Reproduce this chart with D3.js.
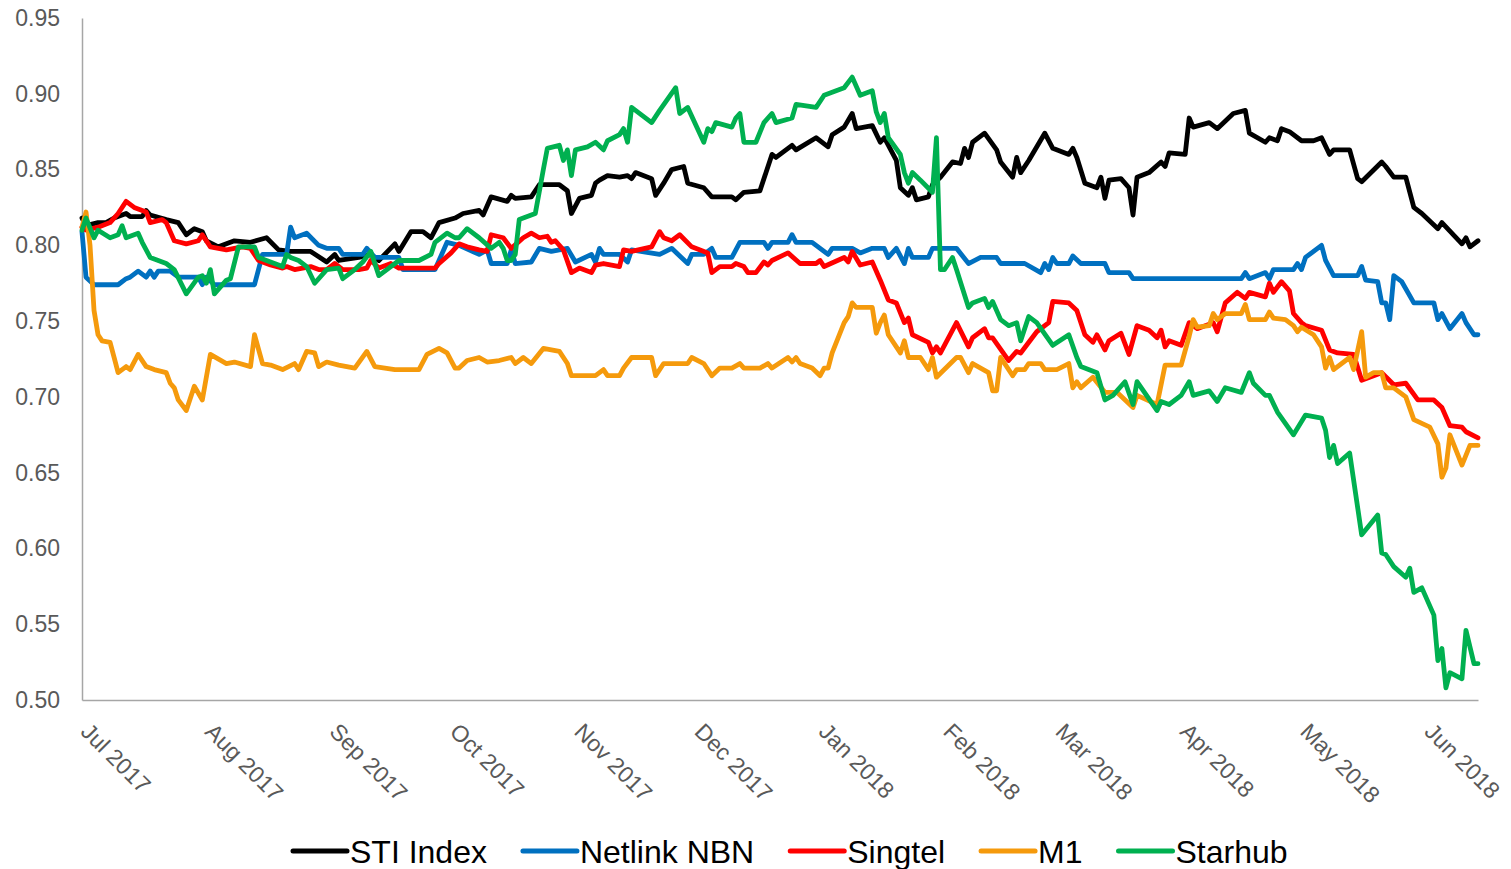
<!DOCTYPE html>
<html><head><meta charset="utf-8">
<script src="https://cdn.jsdelivr.net/npm/d3@7"></script>
<style>
body{margin:0;background:#fff;}
svg{display:block;font-family:"Liberation Sans",Arial,sans-serif;}
</style>
</head><body>
<svg id="chart" width="1511" height="869"></svg>
<script>
// ---- data: [days since 2017-07-01, value] ----
const startDate = new Date(2017, 6, 1);
const lastDay = 348;
const yTicks = [0.50, 0.55, 0.60, 0.65, 0.70, 0.75, 0.80, 0.85, 0.90, 0.95];
const seriesNames = ["STI Index", "Netlink NBN", "Singtel", "M1", "Starhub"];

const sti = [[0,0.818],[1,0.813],[4,0.815],[6,0.815],[8,0.818],[11,0.821],[12,0.819],[15,0.819],[16,0.823],[17,0.820],[21,0.817],[24,0.815],[26,0.807],[28,0.811],[30,0.809],[31,0.803],[34,0.799],[36,0.801],[38,0.803],[42,0.802],[46,0.805],[49,0.797],[52,0.796],[57,0.796],[61,0.789],[63,0.794],[64,0.790],[69,0.792],[72,0.794],[74,0.790],[78,0.801],[79,0.796],[82,0.809],[85,0.809],[87,0.805],[89,0.815],[93,0.818],[95,0.821],[99,0.823],[100,0.820],[102,0.832],[106,0.829],[107,0.833],[108,0.831],[112,0.832],[114,0.840],[119,0.840],[121,0.836],[122,0.821],[124,0.831],[127,0.833],[128,0.841],[129,0.843],[131,0.846],[134,0.845],[136,0.846],[137,0.844],[138,0.848],[142,0.844],[143,0.833],[145,0.841],[147,0.850],[150,0.852],[151,0.841],[155,0.838],[157,0.832],[162,0.832],[163,0.830],[165,0.835],[169,0.836],[172,0.860],[173,0.858],[177,0.866],[178,0.863],[183,0.871],[186,0.865],[187,0.873],[190,0.878],[192,0.887],[193,0.877],[197,0.879],[199,0.868],[200,0.871],[203,0.856],[204,0.838],[206,0.833],[207,0.838],[208,0.830],[211,0.832],[212,0.840],[214,0.845],[217,0.855],[219,0.854],[220,0.864],[221,0.858],[222,0.868],[225,0.874],[228,0.863],[229,0.855],[232,0.845],[233,0.858],[234,0.848],[236,0.856],[240,0.874],[242,0.864],[246,0.860],[247,0.864],[248,0.858],[250,0.841],[253,0.838],[254,0.845],[255,0.831],[256,0.843],[259,0.844],[261,0.838],[262,0.820],[263,0.845],[266,0.848],[269,0.855],[270,0.852],[271,0.861],[275,0.860],[276,0.884],[277,0.878],[281,0.881],[283,0.877],[287,0.887],[290,0.889],[291,0.874],[295,0.868],[296,0.871],[298,0.869],[299,0.877],[301,0.875],[304,0.869],[307,0.869],[309,0.871],[311,0.860],[312,0.863],[316,0.863],[318,0.844],[319,0.842],[324,0.855],[325,0.852],[327,0.845],[330,0.845],[332,0.825],[334,0.821],[338,0.811],[339,0.815],[344,0.801],[345,0.805],[346,0.799],[348,0.803]];

const netlink = [[0,0.809],[1,0.779],[3,0.774],[9,0.774],[11,0.778],[12,0.779],[14,0.783],[16,0.779],[17,0.783],[18,0.779],[19,0.783],[22,0.783],[24,0.779],[29,0.779],[30,0.774],[31,0.779],[33,0.774],[43,0.774],[45,0.794],[51,0.794],[52,0.812],[53,0.805],[56,0.808],[59,0.800],[61,0.798],[64,0.798],[65,0.794],[70,0.794],[71,0.798],[73,0.792],[79,0.792],[80,0.784],[88,0.784],[91,0.802],[94,0.800],[99,0.794],[101,0.797],[102,0.788],[106,0.788],[107,0.797],[108,0.788],[112,0.789],[114,0.798],[117,0.796],[121,0.798],[123,0.789],[127,0.794],[128,0.789],[129,0.798],[130,0.794],[134,0.794],[136,0.789],[137,0.797],[144,0.794],[147,0.798],[151,0.788],[152,0.794],[155,0.794],[157,0.798],[158,0.792],[162,0.792],[164,0.802],[170,0.802],[171,0.798],[172,0.802],[176,0.802],[177,0.807],[178,0.802],[182,0.802],[186,0.794],[187,0.798],[192,0.798],[194,0.795],[197,0.798],[200,0.798],[201,0.792],[203,0.798],[205,0.788],[206,0.798],[207,0.792],[211,0.792],[212,0.798],[218,0.798],[221,0.788],[224,0.792],[228,0.792],[229,0.788],[235,0.788],[239,0.782],[240,0.788],[241,0.784],[242,0.792],[243,0.788],[246,0.788],[247,0.793],[249,0.788],[255,0.788],[256,0.782],[261,0.782],[262,0.778],[289,0.778],[290,0.782],[291,0.778],[295,0.782],[296,0.778],[297,0.784],[302,0.784],[303,0.788],[304,0.784],[305,0.792],[309,0.800],[310,0.790],[312,0.780],[318,0.780],[319,0.786],[320,0.777],[323,0.776],[324,0.762],[325,0.762],[326,0.751],[327,0.780],[329,0.776],[332,0.762],[337,0.762],[338,0.751],[339,0.755],[341,0.745],[344,0.755],[345,0.749],[347,0.741],[348,0.741]];

const singtel = [[0,0.812],[1,0.810],[4,0.812],[7,0.815],[9,0.821],[11,0.829],[13,0.825],[16,0.822],[17,0.815],[20,0.817],[21,0.815],[23,0.803],[26,0.801],[29,0.803],[30,0.807],[32,0.799],[36,0.797],[40,0.799],[42,0.798],[44,0.790],[47,0.787],[50,0.785],[51,0.786],[53,0.784],[57,0.786],[59,0.784],[61,0.784],[63,0.788],[65,0.784],[69,0.784],[71,0.785],[72,0.790],[74,0.785],[77,0.788],[79,0.785],[88,0.785],[89,0.788],[92,0.795],[94,0.801],[96,0.799],[99,0.797],[101,0.796],[102,0.807],[105,0.805],[107,0.798],[110,0.805],[112,0.808],[114,0.805],[116,0.806],[117,0.802],[118,0.803],[120,0.797],[122,0.782],[124,0.785],[127,0.782],[128,0.787],[130,0.788],[134,0.786],[135,0.797],[137,0.796],[142,0.799],[144,0.809],[145,0.805],[147,0.803],[149,0.807],[152,0.799],[156,0.795],[157,0.782],[159,0.786],[162,0.786],[163,0.788],[165,0.786],[166,0.782],[168,0.782],[170,0.789],[171,0.787],[172,0.790],[176,0.795],[179,0.788],[183,0.788],[184,0.790],[185,0.786],[190,0.792],[191,0.789],[192,0.796],[194,0.787],[197,0.789],[199,0.777],[201,0.764],[203,0.762],[205,0.749],[206,0.752],[207,0.741],[211,0.736],[212,0.729],[213,0.733],[214,0.729],[218,0.749],[221,0.733],[222,0.739],[225,0.745],[226,0.739],[227,0.739],[231,0.724],[233,0.730],[234,0.729],[238,0.743],[241,0.749],[242,0.763],[246,0.762],[248,0.757],[250,0.741],[252,0.736],[253,0.741],[255,0.731],[256,0.737],[259,0.742],[261,0.728],[263,0.747],[266,0.744],[268,0.739],[269,0.744],[270,0.733],[271,0.737],[274,0.734],[276,0.749],[278,0.745],[282,0.749],[283,0.743],[285,0.762],[288,0.769],[290,0.765],[291,0.769],[295,0.766],[296,0.775],[297,0.769],[299,0.776],[301,0.770],[302,0.755],[304,0.749],[305,0.747],[309,0.744],[311,0.731],[313,0.729],[317,0.728],[319,0.711],[322,0.714],[324,0.716],[327,0.708],[330,0.709],[333,0.698],[337,0.698],[339,0.693],[341,0.681],[344,0.680],[345,0.677],[348,0.673]];

const m1 = [[0,0.812],[1,0.822],[2,0.800],[3,0.757],[4,0.741],[5,0.737],[7,0.736],[8,0.726],[9,0.716],[11,0.720],[12,0.718],[14,0.728],[16,0.720],[18,0.718],[21,0.716],[22,0.709],[23,0.706],[24,0.698],[26,0.691],[28,0.707],[30,0.698],[32,0.728],[36,0.722],[38,0.723],[42,0.720],[43,0.741],[45,0.722],[47,0.721],[50,0.718],[53,0.722],[54,0.718],[56,0.730],[58,0.729],[59,0.720],[61,0.723],[64,0.721],[68,0.719],[71,0.730],[73,0.720],[78,0.718],[84,0.718],[86,0.728],[89,0.732],[91,0.729],[93,0.719],[94,0.719],[96,0.724],[99,0.726],[101,0.723],[104,0.724],[107,0.726],[108,0.722],[110,0.726],[112,0.722],[115,0.732],[119,0.730],[121,0.722],[122,0.714],[128,0.714],[130,0.718],[131,0.714],[134,0.714],[135,0.719],[137,0.726],[142,0.726],[143,0.714],[145,0.722],[151,0.722],[152,0.726],[155,0.722],[157,0.714],[159,0.719],[162,0.719],[164,0.722],[165,0.719],[169,0.719],[171,0.722],[172,0.719],[176,0.726],[177,0.723],[178,0.726],[179,0.722],[182,0.719],[184,0.714],[185,0.719],[186,0.719],[187,0.729],[190,0.749],[191,0.753],[192,0.762],[193,0.759],[197,0.759],[198,0.742],[199,0.749],[200,0.754],[201,0.741],[204,0.729],[205,0.737],[206,0.726],[209,0.726],[211,0.718],[212,0.726],[213,0.713],[218,0.726],[219,0.726],[221,0.716],[222,0.722],[226,0.716],[227,0.704],[228,0.704],[229,0.726],[232,0.714],[233,0.718],[235,0.718],[236,0.722],[239,0.722],[240,0.718],[243,0.718],[246,0.722],[247,0.706],[248,0.710],[249,0.706],[252,0.713],[255,0.703],[258,0.703],[262,0.693],[263,0.701],[268,0.695],[270,0.721],[274,0.721],[276,0.740],[277,0.751],[278,0.746],[281,0.747],[282,0.755],[283,0.751],[285,0.755],[289,0.755],[290,0.761],[291,0.751],[295,0.751],[296,0.756],[297,0.752],[300,0.751],[302,0.747],[303,0.743],[304,0.746],[307,0.741],[309,0.733],[310,0.719],[311,0.726],[312,0.718],[316,0.726],[317,0.718],[319,0.743],[320,0.713],[322,0.716],[324,0.716],[325,0.706],[327,0.706],[330,0.700],[332,0.685],[336,0.680],[338,0.669],[339,0.647],[340,0.653],[341,0.675],[344,0.655],[346,0.668],[348,0.668]];

const starhub = [[0,0.810],[1,0.818],[3,0.805],[4,0.810],[7,0.805],[9,0.807],[10,0.813],[11,0.805],[14,0.808],[15,0.802],[17,0.792],[19,0.790],[21,0.788],[23,0.784],[26,0.768],[29,0.779],[30,0.780],[31,0.775],[32,0.784],[33,0.768],[36,0.777],[37,0.778],[39,0.799],[43,0.799],[44,0.792],[46,0.790],[50,0.786],[51,0.794],[52,0.792],[54,0.790],[56,0.786],[58,0.775],[61,0.784],[64,0.785],[65,0.778],[66,0.780],[68,0.784],[70,0.789],[72,0.796],[74,0.780],[76,0.784],[79,0.790],[84,0.790],[87,0.794],[88,0.802],[91,0.808],[93,0.805],[94,0.805],[96,0.811],[99,0.805],[102,0.798],[104,0.802],[105,0.798],[106,0.790],[107,0.790],[108,0.794],[109,0.817],[113,0.821],[115,0.850],[116,0.864],[119,0.866],[120,0.856],[121,0.863],[122,0.846],[123,0.863],[126,0.865],[128,0.868],[130,0.863],[131,0.869],[134,0.873],[135,0.877],[136,0.868],[137,0.891],[142,0.881],[144,0.889],[148,0.904],[149,0.887],[151,0.891],[155,0.868],[156,0.877],[157,0.875],[158,0.881],[162,0.878],[163,0.884],[164,0.887],[165,0.868],[168,0.868],[170,0.881],[172,0.887],[173,0.881],[177,0.884],[178,0.893],[183,0.891],[185,0.899],[190,0.904],[192,0.911],[194,0.899],[197,0.902],[198,0.888],[199,0.881],[200,0.887],[201,0.871],[204,0.860],[205,0.848],[206,0.841],[207,0.848],[209,0.843],[212,0.835],[213,0.871],[214,0.784],[215,0.784],[217,0.792],[218,0.784],[221,0.759],[222,0.762],[225,0.765],[226,0.759],[227,0.763],[229,0.751],[231,0.747],[233,0.749],[234,0.737],[236,0.753],[238,0.749],[242,0.734],[246,0.741],[248,0.726],[249,0.720],[253,0.716],[255,0.698],[257,0.701],[260,0.710],[262,0.695],[263,0.710],[268,0.691],[269,0.697],[271,0.695],[274,0.701],[276,0.710],[277,0.701],[281,0.704],[283,0.697],[285,0.706],[289,0.703],[291,0.716],[292,0.709],[295,0.701],[296,0.701],[298,0.690],[302,0.675],[305,0.688],[309,0.686],[310,0.678],[311,0.660],[312,0.668],[313,0.656],[316,0.663],[319,0.609],[323,0.622],[324,0.597],[325,0.596],[327,0.588],[330,0.581],[331,0.587],[332,0.571],[334,0.574],[337,0.556],[338,0.526],[339,0.534],[340,0.508],[341,0.518],[344,0.514],[345,0.546],[347,0.524],[348,0.524]];

const seriesData = [sti, netlink, singtel, m1, starhub];
const seriesColors = ["#000000", "#0070C0", "#FF0000", "#F59A0C", "#00B050"];

// ---- layout ----
const svg = d3.select("#chart");
const plot = {left: 82, right: 1478, top: 18, bottom: 700};

const x = d3.scaleTime()
  .domain([startDate, d3.timeDay.offset(startDate, lastDay)])
  .range([plot.left, plot.right]);
const y = d3.scaleLinear().domain([0.50, 0.95]).range([plot.bottom, plot.top]);
const toDate = d => d3.timeDay.offset(startDate, d);

// y axis
const yAxis = svg.append("g")
  .attr("transform", `translate(${plot.left},0)`)
  .call(d3.axisLeft(y).tickValues(yTicks).tickFormat(d3.format(".2f")).tickSize(0).tickSizeOuter(0).tickPadding(22));
yAxis.select(".domain").attr("stroke", "#a6a6a6").attr("stroke-width", 1.5);
yAxis.selectAll("text").attr("fill", "#595959").style("font-size", "23px")
  .style("font-family", '"Liberation Sans", Arial, sans-serif');

// x axis
const xAxis = svg.append("g")
  .attr("transform", `translate(0,${plot.bottom})`)
  .call(d3.axisBottom(x).ticks(d3.timeMonth.every(1)).tickFormat(d3.timeFormat("%b %Y")).tickSize(0).tickSizeOuter(0));
xAxis.select(".domain").attr("stroke", "#a6a6a6").attr("stroke-width", 1.5);
xAxis.selectAll("text")
  .attr("fill", "#595959").style("font-size", "23px")
  .style("font-family", '"Liberation Sans", Arial, sans-serif')
  .attr("x", 0).attr("y", 0).attr("dy", 0)
  .attr("transform", "translate(-3,33) rotate(45)")
  .style("text-anchor", "start");

// lines
const line = d3.line().x(d => x(toDate(d[0]))).y(d => y(d[1]));
svg.append("g").selectAll("path")
  .data(seriesData)
  .join("path")
  .attr("d", line)
  .attr("fill", "none")
  .attr("stroke", (d, i) => seriesColors[i])
  .attr("stroke-width", 4.8)
  .attr("stroke-linejoin", "round")
  .attr("stroke-linecap", "round");

// legend
const legend = svg.append("g").attr("transform", "translate(0,851)");
let lx = 293;
seriesNames.forEach((name, i) => {
  legend.append("line")
    .attr("x1", lx).attr("x2", lx + 54).attr("y1", 0).attr("y2", 0)
    .attr("stroke", seriesColors[i]).attr("stroke-width", 5).attr("stroke-linecap", "round");
  const t = legend.append("text")
    .attr("x", lx + 57).attr("y", 0).attr("dy", "0.36em")
    .style("font-size", "32px").attr("fill", "#000")
    .text(name);
  lx += 57 + t.node().getComputedTextLength() + 36;
});
</script>
</body></html>
